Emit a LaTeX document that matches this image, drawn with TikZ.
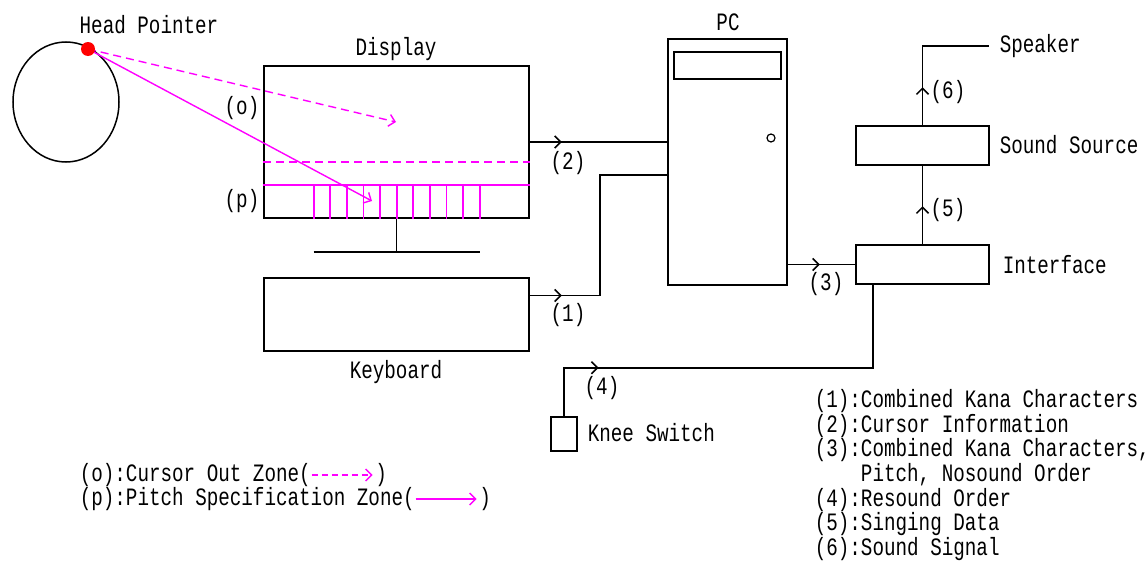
\documentclass[tikz,border=0pt]{standalone}
\usepackage{fontspec}
\newfontfamily\gothic{Liberation Mono}[FakeStretch=0.77]
\usetikzlibrary{arrows.meta, calc, shapes.geometric, decorations.markings}
\definecolor{zonepink}{RGB}{255,0,255}

\begin{document}
\begin{tikzpicture}[x=0.5pt, y=-0.5pt, line width=0.75pt, >={Straight Barb[length=3pt, width=6pt]},
  every node/.style={font=\gothic\fontsize{12.5}{12.35}\selectfont, inner sep=0pt},
  flow/.style={postaction={decorate, decoration={markings, mark=at position #1 with {\arrow{>}}}}},
  zone/.style={zonepink, line width=0.7pt, ->}]
  \useasboundingbox (0,0) rectangle (1148,562);

  \node[draw, ellipse, minimum width=53pt, minimum height=60pt] (head) at (66,102) {};
  \node (headlbl) at (149,25) {Head Pointer};
  \node[draw, minimum width=132.5pt, minimum height=76pt] (display) at (396.5,142) {};
  \node (displbl) at (396,49) {Display};
  \node (olbl) at (242,108) {(o)};
  \node (plbl) at (242,201) {(p)};
  \draw[zonepink, line width=0.9pt, dash pattern=on 4pt off 2.5pt] ($(display.south west)+(0,-56.5)$) -- ($(display.south east)+(0,-56.5)$);
  \draw[zonepink, line width=0.9pt] ($(display.south west)+(0,-33.5)$) -- ($(display.south east)+(0,-33.5)$);
  \foreach \i in {0,...,10}
    \draw[zonepink, line width=0.9pt] ($(display.south west)+(50.5+16.6*\i,-33.5)$) -- ($(display.south west)+(50.5+16.6*\i,0)$);
  \draw (display.south) -- ++(0,33) coordinate (foot);
  \draw ($(foot)+(-83,0)$) -- ($(foot)+(83,0)$);

  \coordinate (hp) at (88,49);
  \coordinate (outpt) at (396,122);
  \coordinate (pitchpt) at (372,201);
  \draw[zone, dash pattern=on 4pt off 2.5pt] (hp) -- (outpt);
  \draw[zone] (hp) -- (pitchpt);
  \node[circle, fill=red, minimum size=7pt] (dot) at (hp) {};

  \node[draw, minimum width=132.5pt, minimum height=36.5pt] (keyboard) at (396.5,314.5) {};
  \node (kblbl) at (396,372) {Keyboard};

  \node[draw, minimum width=59.5pt, minimum height=123pt] (pc) at (727.5,162) {};
  \node[draw, minimum width=53.5pt, minimum height=13.5pt] (drive) at (727.5,65.5) {};
  \node[draw, circle, line width=0.6pt, minimum size=4pt] (power) at (771,138) {};
  \node (pclbl) at (728,22) {PC};

  \node[draw, minimum width=66.5pt, minimum height=19.5pt] (interface) at (922.5,264.5) {};
  \node[anchor=west] (iflbl) at (1002,265) {Interface};
  \node[draw, minimum width=66.5pt, minimum height=19.5pt] (source) at (922.5,145.5) {};
  \node[anchor=west] (srclbl) at (999,145) {Sound Source};
  \node[anchor=west] (speaker) at (999,46) {Speaker};
  \node[draw, minimum width=13pt, minimum height=17pt] (knee) at (564,434) {};
  \node[anchor=west] (kneelbl) at (587,433) {Knee Switch};

  \draw[flow=16pt] (display.east) -- (display.east -| pc.west);
  \node (f2) at (568,163) {(2)};
  \draw[flow=16pt] ($(keyboard.east)+(0,-19)$) -- ++(70,0) |- ($(pc.west)+(0,13)$);
  \node (f1) at (568,315) {(1)};
  \draw[flow=16pt] (interface.west -| pc.east) -- (interface.west);
  \node (f3) at (826,284) {(3)};
  \coordinate (ifb) at ($(interface.south)+(-49.5,0)$);
  \draw[flow=41.5pt] (knee.north) |- ($(ifb)+(0,83)$) -- (ifb);
  \node (f4) at (602,388) {(4)};
  \draw[flow=19pt] (interface.north) -- (source.south);
  \node (f5) at (948,210) {(5)};
  \draw[flow=19pt] (source.north) |- ($(speaker.west)+(-10,0)$);
  \node (f6) at (948,92) {(6)};

  \node[anchor=west] (lego) at (79,475) {(o):Cursor Out Zone(};
  \draw[zone, dash pattern=on 3pt off 2pt] (lego.east) -- ++(61,0) coordinate (legoend);
  \node[anchor=west] at ($(legoend)+(2,0)$) {)};
  \node[anchor=west] (legp) at (79,499) {(p):Pitch Specification Zone(};
  \draw[zone] (legp.east) -- ++(61,0) coordinate (legpend);
  \node[anchor=west] at ($(legpend)+(2,0)$) {)};

  \node[anchor=west, align=left] (legend) at (814,475) {(1):Combined Kana Characters\\(2):Cursor Information\\(3):Combined Kana Characters,\\\phantom{(3):}Pitch, Nosound Order\\(4):Resound Order\\(5):Singing Data\\(6):Sound Signal};
\end{tikzpicture}
\end{document}
